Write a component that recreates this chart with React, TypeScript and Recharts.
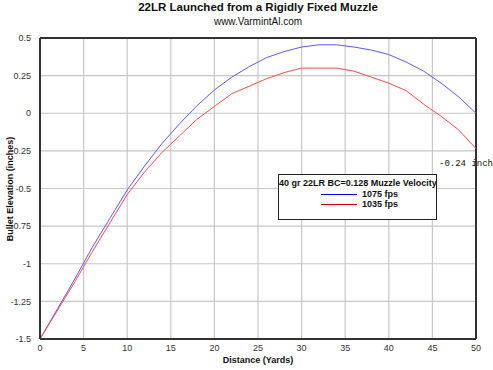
import React from 'react';
import { LineChart, Line, XAxis, YAxis, CartesianGrid, ReferenceLine } from 'recharts';

const distance = [0, 2, 4, 6, 8, 10, 12, 14, 16, 18, 20, 22, 24, 26, 28, 30, 32, 34, 36, 38, 40, 42, 44, 46, 48, 50];
const fps1075 = [-1.5, -1.3, -1.1, -0.89, -0.7, -0.51, -0.35, -0.2, -0.07, 0.05, 0.155, 0.24, 0.31, 0.37, 0.41, 0.44, 0.455, 0.455, 0.44, 0.42, 0.39, 0.34, 0.28, 0.2, 0.11, 0.0];
const fps1035 = [-1.5, -1.31, -1.12, -0.92, -0.73, -0.54, -0.39, -0.26, -0.15, -0.04, 0.045, 0.13, 0.18, 0.23, 0.27, 0.3, 0.3, 0.3, 0.28, 0.24, 0.2, 0.15, 0.06, -0.02, -0.11, -0.235];

const xTicks = [0, 5, 10, 15, 20, 25, 30, 35, 40, 45, 50];
const yTicks = [0.5, 0.25, 0, -0.25, -0.5, -0.75, -1, -1.25, -1.5];

const data = distance.map((d, i) => ({ d, a: fps1075[i], b: fps1035[i] }));

const font = 'Arial, "Liberation Sans", sans-serif';
const tickStyle = { fill: '#333', fontSize: 9, fontFamily: font };

export default function App() {
  return (
    <div style={{ position: 'absolute', left: 0, top: 0, width: 493, height: 370, background: '#fff', fontFamily: font }}>
      <div style={{ position: 'absolute', top: 1, left: 40, width: 436, textAlign: 'center', fontSize: 11.5, fontWeight: 'bold', color: '#111', whiteSpace: 'nowrap' }}>
        22LR Launched from a Rigidly Fixed Muzzle
      </div>
      <div style={{ position: 'absolute', top: 16, left: 40, width: 436, textAlign: 'center', fontSize: 10, color: '#111' }}>
        www.VarmintAl.com
      </div>
      {/* under the chart so the right border is drawn over it, as in the original */}
      <div style={{ position: 'absolute', left: 439, top: 159, fontSize: 9, fontFamily: '"Liberation Mono", "DejaVu Sans Mono", monospace', color: '#111', whiteSpace: 'nowrap' }}>
        -0.24 inch
      </div>
      <div style={{ position: 'absolute', left: 0, top: 0 }}>
        <LineChart width={493} height={370} data={data} margin={{ top: 38, right: 17, bottom: 0, left: 0 }}>
          <CartesianGrid stroke="#c8c8c8" strokeWidth={1.2} />
          <XAxis
            dataKey="d"
            type="number"
            domain={[0, 50]}
            ticks={xTicks}
            height={31}
            tickLine={false}
            axisLine={{ stroke: '#333', strokeWidth: 2 }}
            tick={tickStyle}
            tickMargin={0}
          />
          <YAxis
            type="number"
            domain={[-1.5, 0.5]}
            ticks={yTicks}
            width={40}
            tickLine={false}
            axisLine={{ stroke: '#333', strokeWidth: 2 }}
            tick={tickStyle}
            tickMargin={3}
          />
          <ReferenceLine y={0.5} stroke="#333" strokeWidth={2} />
          <ReferenceLine x={50} stroke="#333" strokeWidth={2} />
          <Line dataKey="a" stroke="#5a5aff" strokeWidth={1} dot={false} isAnimationActive={false} />
          <Line dataKey="b" stroke="#ff4a4a" strokeWidth={1} dot={false} isAnimationActive={false} />
        </LineChart>
      </div>
      <div style={{ position: 'absolute', left: 10, top: 189, transform: 'translate(-50%, -50%) rotate(-90deg)', fontSize: 9, fontWeight: 'bold', color: '#111', whiteSpace: 'nowrap' }}>
        Bullet Elevation (inches)
      </div>
      <div style={{ position: 'absolute', left: 40, width: 436, top: 355, textAlign: 'center', fontSize: 9, fontWeight: 'bold', color: '#111' }}>
        Distance (Yards)
      </div>
      <div style={{ position: 'absolute', left: 278, top: 174, width: 159, height: 46, boxSizing: 'border-box', border: '1px solid #222', background: '#fff', fontSize: 9, color: '#111' }}>
        <div style={{ textAlign: 'center', marginTop: 3, fontWeight: 'bold', whiteSpace: 'nowrap' }}>40 gr 22LR BC=0.128 Muzzle Velocity</div>
        <div style={{ display: 'flex', alignItems: 'center', marginTop: 1, marginLeft: 42 }}>
          <span style={{ display: 'inline-block', width: 36, height: 0, borderTop: '1.5px solid #0000ff', marginRight: 5 }} />
          <span style={{ fontWeight: 'bold' }}>1075 fps</span>
        </div>
        <div style={{ display: 'flex', alignItems: 'center', marginTop: 0, marginLeft: 42 }}>
          <span style={{ display: 'inline-block', width: 36, height: 0, borderTop: '1.5px solid #dd0000', marginRight: 5 }} />
          <span style={{ fontWeight: 'bold' }}>1035 fps</span>
        </div>
      </div>
    </div>
  );
}
